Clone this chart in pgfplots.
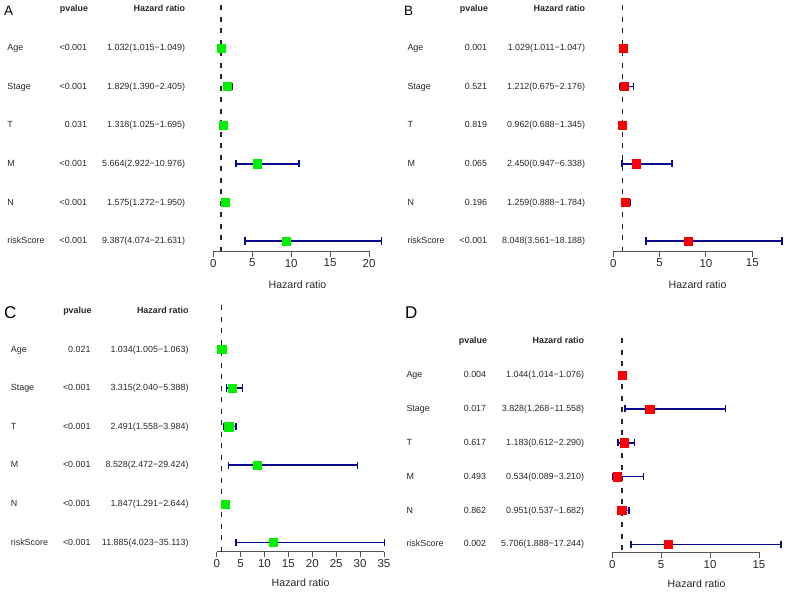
\documentclass[border=0pt]{standalone}
\usepackage{pgfplots}
\pgfplotsset{compat=1.18}
\usepackage{pgfplotstable}
\usepackage{fontspec}
\setmainfont{Liberation Sans}
\definecolor{ebblue}{RGB}{10,10,145}
\definecolor{mgreen}{RGB}{0,240,0}
\definecolor{mred}{RGB}{255,0,0}
\definecolor{axgray}{RGB}{85,85,85}
\definecolor{txt}{RGB}{40,40,40}

\pgfplotstableread{
row hr lo hi
1 1.032 1.015 1.049
2 1.829 1.390 2.405
3 1.318 1.025 1.695
4 5.664 2.922 10.976
5 1.575 1.272 1.950
6 9.387 4.074 21.631
}\dataA
\pgfplotstableread{
row hr lo hi
1 1.029 1.011 1.047
2 1.212 0.675 2.176
3 0.962 0.688 1.345
4 2.450 0.947 6.338
5 1.259 0.888 1.784
6 8.048 3.561 18.188
}\dataB
\pgfplotstableread{
row hr lo hi
1 1.034 1.005 1.063
2 3.315 2.040 5.388
3 2.491 1.558 3.984
4 8.528 2.472 29.424
5 1.847 1.291 2.644
6 11.885 4.023 35.113
}\dataC
\pgfplotstableread{
row hr lo hi
1 1.044 1.014 1.076
2 3.828 1.268 11.558
3 1.183 0.612 2.290
4 0.534 0.089 3.210
5 0.951 0.537 1.682
6 5.706 1.888 17.244
}\dataD

\pgfplotsset{
  forest/.style={
    scale only axis, clip=false,
    axis x line=bottom, axis y line=none,
    x axis line style={draw=none},
    ytick=\empty,
    tick align=outside, major tick length=5.5pt,
    tick style={draw=axgray, line width=0.9pt},
    xticklabel style={font=\fontsize{11.5}{12}\selectfont, text=txt, yshift=1pt},
    /pgf/number format/assume math mode=true,
    xlabel={Hazard ratio},
    xlabel style={font=\fontsize{10.6}{12}\selectfont, text=txt, at={(axis description cs:0.5,0)}, anchor=center},
    xmin=0,
  },
}
\tikzset{
  lab/.style={anchor=mid west, font=\fontsize{8.9}{10}\selectfont, text=txt, inner sep=0pt},
  pv/.style={anchor=mid east, font=\fontsize{8.9}{10}\selectfont, text=txt, inner sep=0pt},
  hd/.style={anchor=mid east, font=\bfseries\fontsize{8.9}{10}\selectfont, text=txt, inner sep=0pt},
}

\newcommand\rowtext[4]{%
  \node[lab] at ([xshift=-206pt]axis cs:0,-#1) {#2};
  \node[pv] at ([xshift=-126pt]axis cs:0,-#1) {#3};
  \node[pv] at ([xshift=-28pt]axis cs:0,-#1) {#4};
}
\newcommand\headtext{%
  \node[hd] at ([xshift=-125pt]axis cs:0,0) {pvalue};
  \node[hd] at ([xshift=-28pt]axis cs:0,0) {Hazard ratio};
}
\newcommand\forestplots[4]{% table, colour, ytop, ybottom
  \addplot[black!85, line width=1.6pt, dash pattern=on 5pt off 6.5pt] coordinates {(1,#3) (1,#4)};
  \addplot[only marks, mark=square*, mark size=4.1pt, mark options={fill=#2, draw=#2},
    error bars/.cd, x dir=both, x explicit,
    error bar style={draw=ebblue, line width=1.6pt},
    error mark=|,
    error mark options={draw=ebblue, line width=1.6pt, mark size=3.6pt, fill=ebblue}]
    table[x=hr, y expr=-\thisrow{row},
          x error plus expr=\thisrow{hi}-\thisrow{hr},
          x error minus expr=\thisrow{hr}-\thisrow{lo}] {#1};
}

\begin{document}
\begin{tikzpicture}
\useasboundingbox (0,0) rectangle (790pt,-592pt);

% Panel letters
\node[anchor=west, inner sep=0pt, font=\fontsize{13.5}{14}\selectfont] at (4pt,-10.5pt) {A};
\node[anchor=west, inner sep=0pt, font=\fontsize{13.5}{14}\selectfont] at (404pt,-10.5pt) {B};
\node[anchor=west, inner sep=0pt, font=\fontsize{17}{18}\selectfont] at (4pt,-313pt) {C};
\node[anchor=west, inner sep=0pt, font=\fontsize{17}{18}\selectfont] at (405pt,-313pt) {D};

% Panel A
\begin{axis}[forest, at={(213.3pt,-251pt)}, anchor=south west,
  width=168.4pt, height=245.9pt, xmax=21.631, ymin=-6.26, ymax=0.11,
  xtick={0,5,...,20}, xlabel style={yshift=-34pt}]
  \draw[axgray, line width=0.9pt] (axis cs:0,-6.26) -- (axis cs:20,-6.26);
  \forestplots{\dataA}{mgreen}{0.11}{-6.26}
  \headtext
  \rowtext{1}{Age}{<0.001}{1.032(1.015−1.049)}
  \rowtext{2}{Stage}{<0.001}{1.829(1.390−2.405)}
  \rowtext{3}{T}{0.031}{1.318(1.025−1.695)}
  \rowtext{4}{M}{<0.001}{5.664(2.922−10.976)}
  \rowtext{5}{N}{<0.001}{1.575(1.272−1.950)}
  \rowtext{6}{riskScore}{<0.001}{9.387(4.074−21.631)}
\end{axis}

% Panel B
\begin{axis}[forest, at={(613.3pt,-251pt)}, anchor=south west,
  width=168.5pt, height=245.9pt, xmax=18.188, ymin=-6.26, ymax=0.11,
  xtick={0,5,...,15}, xlabel style={yshift=-34pt}]
  \draw[axgray, line width=0.9pt] (axis cs:0,-6.26) -- (axis cs:15,-6.26);
  \forestplots{\dataB}{mred}{0.11}{-6.26}
  \headtext
  \rowtext{1}{Age}{0.001}{1.029(1.011−1.047)}
  \rowtext{2}{Stage}{0.521}{1.212(0.675−2.176)}
  \rowtext{3}{T}{0.819}{0.962(0.688−1.345)}
  \rowtext{4}{M}{0.065}{2.450(0.947−6.338)}
  \rowtext{5}{N}{0.196}{1.259(0.888−1.784)}
  \rowtext{6}{riskScore}{<0.001}{8.048(3.561−18.188)}
\end{axis}

% Panel C
\begin{axis}[forest, at={(216.7pt,-551.7pt)}, anchor=south west,
  width=167.8pt, height=246.7pt, xmax=35.113, ymin=-6.24, ymax=0.15,
  xtick={0,5,...,35}, xlabel style={yshift=-31pt}]
  \draw[axgray, line width=0.9pt] (axis cs:0,-6.24) -- (axis cs:35,-6.24);
  \forestplots{\dataC}{mgreen}{0.15}{-6.24}
  \headtext
  \rowtext{1}{Age}{0.021}{1.034(1.005−1.063)}
  \rowtext{2}{Stage}{<0.001}{3.315(2.040−5.388)}
  \rowtext{3}{T}{<0.001}{2.491(1.558−3.984)}
  \rowtext{4}{M}{<0.001}{8.528(2.472−29.424)}
  \rowtext{5}{N}{<0.001}{1.847(1.291−2.644)}
  \rowtext{6}{riskScore}{<0.001}{11.885(4.023−35.113)}
\end{axis}

% Panel D
\begin{axis}[forest, at={(612.3pt,-552.3pt)}, anchor=south west,
  width=168.6pt, height=213.9pt, xmax=17.244, ymin=-6.235, ymax=0.08,
  xtick={0,5,...,15}, xlabel style={yshift=-31pt}]
  \draw[axgray, line width=0.9pt] (axis cs:0,-6.235) -- (axis cs:15,-6.235);
  \forestplots{\dataD}{mred}{0.08}{-6.235}
  \headtext
  \rowtext{1}{Age}{0.004}{1.044(1.014−1.076)}
  \rowtext{2}{Stage}{0.017}{3.828(1.268−11.558)}
  \rowtext{3}{T}{0.617}{1.183(0.612−2.290)}
  \rowtext{4}{M}{0.493}{0.534(0.089−3.210)}
  \rowtext{5}{N}{0.862}{0.951(0.537−1.682)}
  \rowtext{6}{riskScore}{0.002}{5.706(1.888−17.244)}
\end{axis}
\end{tikzpicture}
\end{document}
